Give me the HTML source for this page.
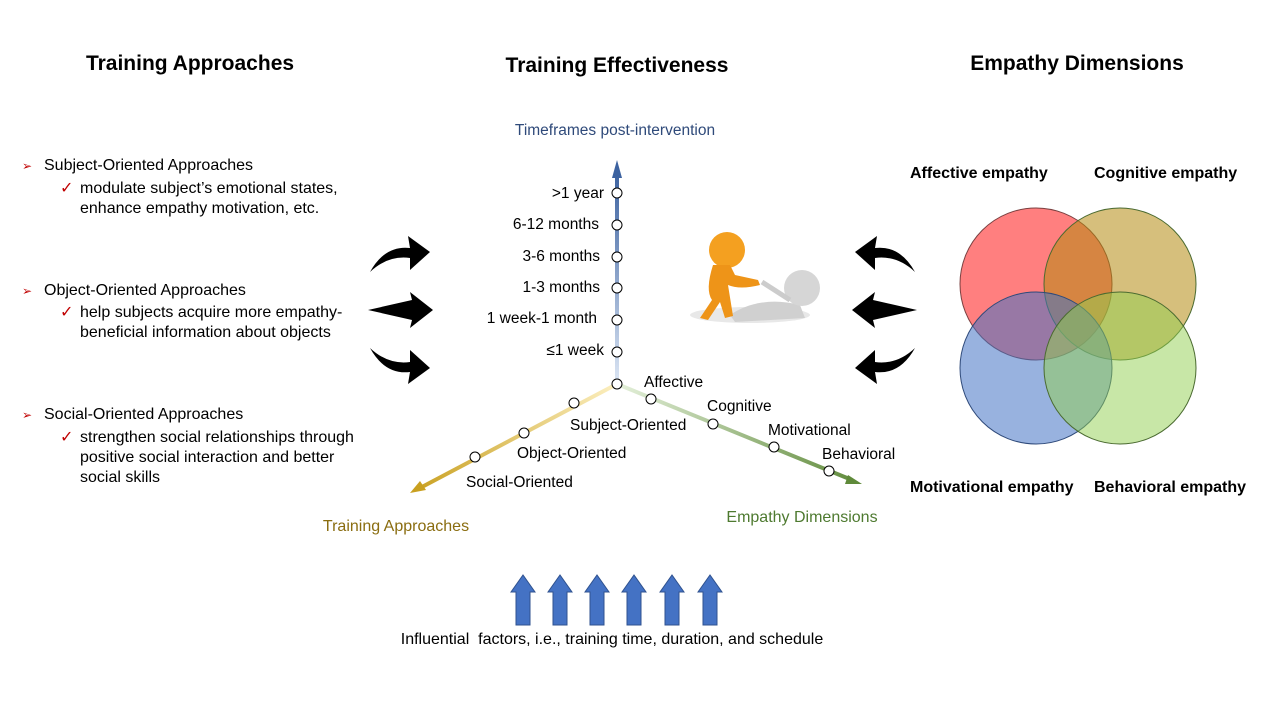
<!DOCTYPE html>
<html><head><meta charset="utf-8"><style>
body{margin:0;width:1280px;height:720px;background:#fff;overflow:hidden;font-family:"Liberation Sans",sans-serif}
svg{position:absolute;left:0;top:0}
</style></head><body>
<svg width="1280" height="720" viewBox="0 0 1280 720" font-family="Liberation Sans, sans-serif">
<defs>
<linearGradient id="gb" x1="0" y1="1" x2="0" y2="0"><stop offset="0" stop-color="#dce6f4"/><stop offset="1" stop-color="#3c62a0"/></linearGradient>
<linearGradient id="gy" x1="617" y1="384" x2="412" y2="492" gradientUnits="userSpaceOnUse"><stop offset="0" stop-color="#fcefc0"/><stop offset="1" stop-color="#c9a020"/></linearGradient>
<linearGradient id="gg" x1="617" y1="384" x2="860" y2="483" gradientUnits="userSpaceOnUse"><stop offset="0" stop-color="#e4f0da"/><stop offset="1" stop-color="#5f8a3a"/></linearGradient>
</defs>
<g font-weight="bold" font-size="21" text-anchor="middle" fill="#000">
<text x="190" y="70">Training Approaches</text>
<text x="617" y="72">Training Effectiveness</text>
<text x="1077" y="70">Empathy Dimensions</text>
</g>
<g font-size="16" fill="#000">
<text x="22" y="170" fill="#c00000" font-size="12">➢</text><text x="44" y="170">Subject-Oriented Approaches</text>
<text x="60" y="193" fill="#c00000">✓</text><text x="80" y="193">modulate subject’s emotional states,</text>
<text x="80" y="213">enhance empathy motivation, etc.</text>
<text x="22" y="295" fill="#c00000" font-size="12">➢</text><text x="44" y="295">Object-Oriented Approaches</text>
<text x="60" y="317" fill="#c00000">✓</text><text x="80" y="317">help subjects acquire more empathy-</text>
<text x="80" y="337">beneficial information about objects</text>
<text x="22" y="419" fill="#c00000" font-size="12">➢</text><text x="44" y="419">Social-Oriented Approaches</text>
<text x="60" y="442" fill="#c00000">✓</text><text x="80" y="442">strengthen social relationships through</text>
<text x="80" y="462">positive social interaction and better</text>
<text x="80" y="482">social skills</text>
</g>
<g fill="#000">
<path d="M370,272 Q385,245 410,248 L408,236 L430,252 L410,270 L410,258 Q388,255 370,272Z"/>
<path d="M368,310 L412,300 L410,292 L433,310 L410,328 L412,320 Z"/>
<path d="M370,348 Q385,375 410,372 L408,384 L430,368 L410,350 L410,362 Q388,365 370,348Z"/>
<path d="M915,272 Q900,245 875,248 L877,236 L855,252 L875,270 L875,258 Q897,255 915,272Z"/>
<path d="M917,310 L873,300 L875,292 L852,310 L875,328 L873,320 Z"/>
<path d="M915,348 Q900,375 875,372 L877,384 L855,368 L875,350 L875,362 Q897,365 915,348Z"/>
</g>
<rect x="615" y="172" width="4" height="212" fill="url(#gb)"/>
<polygon points="617,160 612,178 622,178" fill="#3c62a0"/>
<line x1="617" y1="384" x2="420" y2="488" stroke="url(#gy)" stroke-width="4"/>
<polygon points="410,493 420,481 426,490" fill="#c9a020"/>
<line x1="617" y1="384" x2="852" y2="480" stroke="url(#gg)" stroke-width="4"/>
<polygon points="862,484 848,475 845,484" fill="#5f8a3a"/>
<g fill="#fff" stroke="#000" stroke-width="1">
<circle cx="617" cy="193" r="5"/><circle cx="617" cy="225" r="5"/><circle cx="617" cy="257" r="5"/><circle cx="617" cy="288" r="5"/><circle cx="617" cy="320" r="5"/><circle cx="617" cy="352" r="5"/><circle cx="617" cy="384" r="5"/>
<circle cx="574" cy="403" r="5"/><circle cx="524" cy="433" r="5"/><circle cx="475" cy="457" r="5"/>
<circle cx="651" cy="399" r="5"/><circle cx="713" cy="424" r="5"/><circle cx="774" cy="447" r="5"/><circle cx="829" cy="471" r="5"/>
</g>
<g font-size="15.5" fill="#000">
<g text-anchor="end">
<text x="604" y="198">&gt;1 year</text><text x="599" y="229">6-12 months</text><text x="600" y="261">3-6 months</text><text x="600" y="292">1-3 months</text><text x="597" y="323">1 week-1 month</text><text x="604" y="355">≤1 week</text>
</g>
<text x="644" y="387">Affective</text><text x="707" y="411">Cognitive</text><text x="768" y="435">Motivational</text><text x="822" y="459">Behavioral</text>
<text x="570" y="430">Subject-Oriented</text><text x="517" y="458">Object-Oriented</text><text x="466" y="487">Social-Oriented</text>
</g>
<text x="615" y="135" font-size="15.5" fill="#2f4a7a" text-anchor="middle">Timeframes post-intervention</text>
<text x="396" y="531" font-size="16" fill="#8a6d10" text-anchor="middle">Training Approaches</text>
<text x="802" y="522" font-size="16" fill="#4e7a30" text-anchor="middle">Empathy Dimensions</text>
<g>
<ellipse cx="750" cy="315" rx="60" ry="8" fill="#e8e8e8"/>
<path d="M730,315 Q760,295 800,305 L805,318 L735,322Z" fill="#d0d0d0"/>
<circle cx="802" cy="288" r="18" fill="#d6d6d6"/>
<line x1="790" y1="300" x2="762" y2="282" stroke="#ccc" stroke-width="5"/>
<circle cx="727" cy="250" r="18" fill="#f4a020"/>
<path d="M713,265 Q705,290 712,300 L700,318 L708,320 L720,302 L725,318 L733,316 L728,285 Q740,290 760,285 L758,280 L735,275 L730,265Z" fill="#ee9418"/>
</g>
<g stroke-width="1">
<circle cx="1036" cy="284" r="76" fill="#ff0000" fill-opacity="0.5" stroke="#7a4040"/>
<circle cx="1120" cy="284" r="76" fill="#b48a10" fill-opacity="0.55" stroke="#4a6a30"/>
<circle cx="1036" cy="368" r="76" fill="#4472c4" fill-opacity="0.55" stroke="#2f4a7a"/>
<circle cx="1120" cy="368" r="76" fill="#92d050" fill-opacity="0.5" stroke="#4a6a30"/>
</g>
<g font-size="16" font-weight="bold" fill="#000">
<text x="910" y="178">Affective empathy</text><text x="1094" y="178">Cognitive empathy</text>
<text x="910" y="492">Motivational empathy</text><text x="1094" y="492">Behavioral empathy</text>
</g>
<g fill="#4472c4" stroke="#2f528f" stroke-width="1">
<path d="M516,625 V592 H511 L523,575 L535,592 H530 V625Z"/>
<path d="M553,625 V592 H548 L560,575 L572,592 H567 V625Z"/>
<path d="M590,625 V592 H585 L597,575 L609,592 H604 V625Z"/>
<path d="M627,625 V592 H622 L634,575 L646,592 H641 V625Z"/>
<path d="M665,625 V592 H660 L672,575 L684,592 H679 V625Z"/>
<path d="M703,625 V592 H698 L710,575 L722,592 H717 V625Z"/>
</g>
<text x="612" y="644" font-size="16" text-anchor="middle" fill="#000" xml:space="preserve">Influential  factors, i.e., training time, duration, and schedule</text>
</svg>
</body></html>
